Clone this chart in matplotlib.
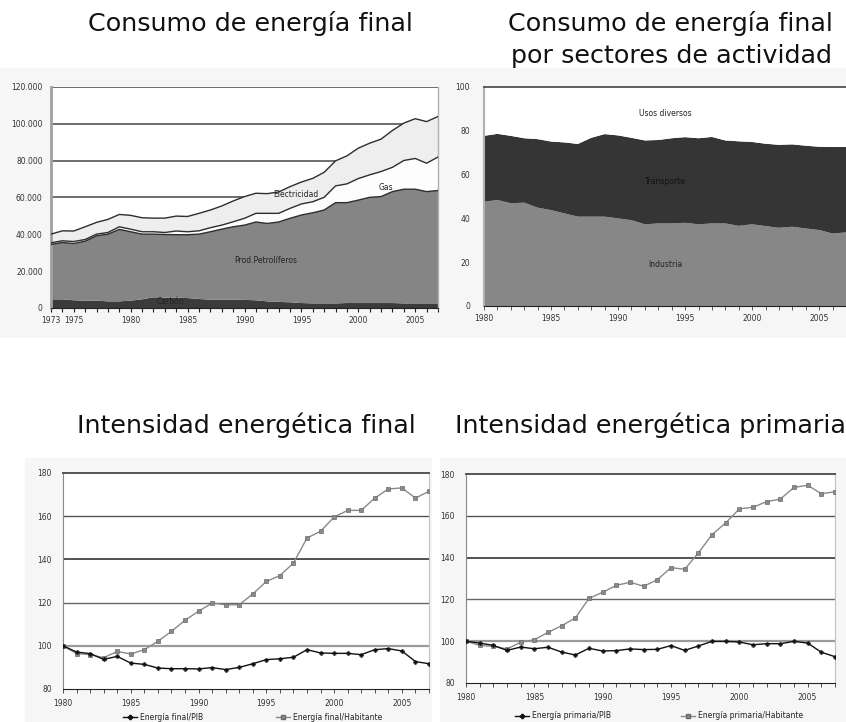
import numpy as np
import matplotlib
matplotlib.use("Agg")
import matplotlib.pyplot as plt
from matplotlib.patches import Rectangle
from matplotlib.lines import Line2D
from matplotlib.ticker import FuncFormatter, MultipleLocator, FixedLocator

# ---------------- data ----------------
years_a = list(range(1973, 2008))
carbon = [4700, 4700, 4200, 4000, 4000, 3600, 3600, 4000, 4700, 5800, 5600, 5600, 5400, 4900, 4500,
          4500, 4500, 4400, 4200, 3600, 3300, 3100, 2700, 2500, 2500, 2500, 2700, 2700, 2700, 2700,
          2700, 2500, 2500, 2500, 2500]
petroleo = [29800, 30900, 30800, 32300, 35200, 36500, 39100, 37400, 35400, 34300, 34300, 34200, 34400,
            35200, 36900, 38300, 39600, 40600, 42500, 42300, 43400, 45600, 47800, 49200, 50700, 54700,
            54500, 55900, 57400, 57800, 60500, 62000, 62000, 60700, 61300]
gas = [900, 900, 1100, 900, 900, 900, 1400, 1400, 1300, 1300, 1100, 2000, 1600, 1800, 2200, 2200, 2700,
       3700, 4700, 5500, 4700, 5400, 6000, 6000, 6900, 9100, 10200, 11700, 12200, 13600, 13200, 15600,
       16700, 15400, 18200]
electricidad = [4700, 5400, 5700, 6900, 6400, 7100, 6700, 7500, 7600, 7400, 7800, 8100, 8300, 9500, 9600,
                10400, 11300, 11800, 10900, 10700, 11600, 11800, 11900, 12700, 13600, 13600, 15200, 16500,
                17200, 17600, 20000, 20300, 21600, 22600, 22000]
fuel_labels = ["Carbón", "Prod.Petrolíferos", "Gas", "Electricidad"]

years_b = list(range(1980, 2008))
industria = [47.6, 48.4, 46.9, 47.2, 44.9, 43.8, 42.3, 40.8, 40.8, 40.8, 40.0, 39.2, 37.3, 37.7, 37.7,
             38.0, 37.3, 37.7, 37.7, 36.6, 37.3, 36.5, 35.7, 36.2, 35.4, 34.7, 33.1, 33.6]
transporte = [30.1, 30.2, 30.8, 29.4, 31.3, 31.3, 32.4, 33.2, 36.0, 37.7, 37.9, 37.6, 38.3, 38.1, 38.9,
              39.1, 39.3, 39.5, 37.9, 38.6, 37.6, 37.6, 37.9, 37.6, 37.8, 38.0, 39.5, 39.0]
usos = [22.3, 21.4, 22.3, 23.4, 23.8, 24.9, 25.3, 26.0, 23.2, 21.5, 22.1, 23.2, 24.4, 24.2, 23.4, 22.9,
        23.4, 22.8, 24.4, 24.8, 25.1, 25.9, 26.4, 26.2, 26.8, 27.3, 27.4, 27.4]
sector_labels = ["Industria", "Transporte", "Usos diversos"]

years_c = list(range(1980, 2008))
final_pib = [100, 97.1, 96.4, 93.7, 95.1, 92.0, 91.4, 89.7, 89.4, 89.4, 89.3, 89.9, 89.0, 90.0, 91.7,
             93.6, 94.0, 94.7, 98.2, 96.7, 96.5, 96.5, 95.9, 98.2, 98.7, 97.6, 92.7, 91.7]
final_hab = [100, 96.4, 95.9, 94.5, 97.4, 96.2, 98.2, 102.1, 106.7, 111.8, 116.0, 119.8, 119.0, 119.0,
             124.0, 129.8, 132.5, 138.3, 149.9, 153.0, 159.6, 162.7, 162.7, 168.4, 172.6, 173.1, 168.4, 171.5]
prim_pib = [100, 99.1, 98.0, 95.6, 97.2, 96.4, 97.1, 94.8, 93.4, 96.6, 95.3, 95.5, 96.3, 96.0, 96.1,
            97.9, 95.6, 97.7, 99.9, 99.9, 99.6, 98.3, 98.8, 98.8, 99.9, 99.1, 94.7, 92.6]
prim_hab = [100, 98.0, 97.5, 96.3, 99.5, 100.7, 104.2, 107.4, 111.1, 120.5, 123.4, 126.7, 128.2, 126.3,
            129.4, 135.2, 134.4, 142.2, 151.0, 156.6, 163.3, 164.1, 166.8, 168.0, 173.6, 174.6, 170.6, 171.5]

titles = ["Consumo de energía final", "Consumo de energía final", "por sectores de actividad",
          "Intensidad energética final", "Intensidad energética primaria"]
leg_final = ["Energía final/PIB", "Energía final/Habitante"]
leg_prim = ["Energía primaria/PIB", "Energía primaria/Habitante"]

# ---------------- figure ----------------
W, H = 846, 722
fig = plt.figure(figsize=(W / 100, H / 100), dpi=100)
fig.patch.set_facecolor("white")

def fx(px):
    return px / W

def fy(py):
    return 1 - py / H

def box(x0, x1, ytop, ybot):
    return [fx(x0), fy(ybot), (x1 - x0) / W, (ybot - ytop) / H]

# light panel backgrounds
for (x0, y0, x1, y1) in [(0, 68, 846, 338), (25, 458, 432, 722), (440, 458, 846, 722)]:
    fig.patches.append(Rectangle((fx(x0), fy(y1)), (x1 - x0) / W, (y1 - y0) / H,
                                 transform=fig.transFigure, facecolor="#f6f6f6",
                                 edgecolor="none", zorder=-5))

TFONT = dict(family="DejaVu Sans", fontsize=18.3, color="#111111")
fig.text(fx(250), fy(31), titles[0], ha="center", va="baseline", **TFONT)
fig.text(fx(670), fy(31), titles[1], ha="center", va="baseline", **TFONT)
fig.text(fx(671), fy(63), titles[2], ha="center", va="baseline", **TFONT)
fig.text(fx(246), fy(433), titles[3], ha="center", va="baseline", **TFONT)
fig.text(fx(650), fy(433), titles[4], ha="center", va="baseline", **TFONT)

TICKFS = 5.5
TICKC = "#333333"

# ---------------- top-left: stacked consumption ----------------
ax1 = fig.add_axes(box(51, 438, 87, 308))
ax1.set_facecolor("white")
ya = np.array(years_a)
ax1.stackplot(ya, carbon, petroleo, gas, electricidad,
              colors=["#3b3b3b", "#858585", "#fdfdfd", "#eeeeee"], linewidth=0, zorder=2)
cum = np.cumsum(np.vstack([carbon, petroleo, gas, electricidad]), axis=0)
for row in cum[1:]:
    ax1.plot(ya, row, color="#2e2e2e", lw=1.0, zorder=3)
for v in range(20000, 120001, 20000):
    ax1.axhline(v, color="#555555", lw=1.2, zorder=1)
ax1.set_xlim(1973, 2007)
ax1.set_ylim(0, 120000)
ax1.set_yticks(range(0, 120001, 20000))
ax1.yaxis.set_major_formatter(FuncFormatter(lambda v, p: f"{v:,.0f}".replace(",", ".")))
ax1.set_xticks([1973, 1975, 1980, 1985, 1990, 1995, 2000, 2005])
ax1.xaxis.set_minor_locator(MultipleLocator(1))
ax1.tick_params(axis="y", length=0, pad=6, labelsize=TICKFS, labelcolor=TICKC)
ax1.tick_params(axis="x", which="both", length=3, width=0.8, color="#222222", pad=3,
                labelsize=TICKFS, labelcolor=TICKC)
ax1.spines["left"].set_color("#a0a0a0")
ax1.spines["left"].set_linewidth(2)
ax1.spines["bottom"].set_color("#222222")
ax1.spines["top"].set_visible(False)
ax1.spines["right"].set_color("#b0b0b0")
ax1.spines["right"].set_linewidth(1)
lab_kw = dict(fontsize=5.5, color="#222222", ha="center", va="center", zorder=5)
ax1.text(1983.5, 3300, fuel_labels[0], **lab_kw)
ax1.text(1991.9, 26000, fuel_labels[1], **lab_kw)
ax1.text(2002.4, 65200, fuel_labels[2], **lab_kw)
ax1.text(1994.5, 61900, fuel_labels[3], **lab_kw)

# ---------------- top-right: sector shares ----------------
ax2 = fig.add_axes(box(484, 846, 87, 306))
ax2.set_facecolor("white")
yb = np.array(years_b)
ax2.stackplot(yb, industria, transporte, usos,
              colors=["#878787", "#353535", "#ffffff"], linewidth=0, zorder=2)
ax2.set_xlim(1980, 2007)
ax2.set_ylim(0, 100)
ax2.set_yticks(range(0, 101, 20))
ax2.set_xticks(range(1980, 2006, 5))
ax2.xaxis.set_minor_locator(MultipleLocator(1))
ax2.tick_params(axis="y", length=0, pad=10, labelsize=TICKFS, labelcolor=TICKC)
ax2.tick_params(axis="x", which="both", length=3, width=0.6, color="#444444", pad=3,
                labelsize=TICKFS, labelcolor=TICKC)
ax2.spines["left"].set_color("#b0b0b0")
ax2.spines["left"].set_linewidth(1.5)
ax2.spines["bottom"].set_color("#222222")
ax2.spines["top"].set_color("#444444")
ax2.spines["top"].set_linewidth(1.2)
ax2.spines["right"].set_visible(False)
lab2 = dict(fontsize=5.5, ha="center", va="center", zorder=5)
ax2.text(1993.5, 88, sector_labels[2], color="#222222", **lab2)
ax2.text(1993.5, 57, sector_labels[1], color="#111111", **lab2)
ax2.text(1993.5, 19, sector_labels[0], color="#222222", **lab2)

# ---------------- bottom: intensities ----------------
def intensity(ax, yrs, pib, hab):
    ax.set_facecolor("white")
    for v, c, lw in [(100, "#9a9a9a", 1.6), (120, "#666666", 1.0), (140, "#333333", 1.2), (160, "#555555", 1.0)]:
        ax.axhline(v, color=c, lw=lw, zorder=1)
    ax.plot(yrs, hab, color="#8a8a8a", lw=1.0, marker="s", ms=2.8, mfc="#8a8a8a",
            mec="#6a6a6a", mew=0.5, zorder=3)
    ax.plot(yrs, pib, color="#111111", lw=1.0, marker="P", ms=3.0, mfc="#111111",
            mec="#111111", mew=0.3, zorder=4)
    ax.set_xlim(1980, 2007)
    ax.set_ylim(80, 180)
    ax.set_yticks(range(80, 181, 20))
    ax.set_xticks(range(1980, 2006, 5))
    ax.xaxis.set_minor_locator(MultipleLocator(1))
    ax.tick_params(axis="y", length=0, pad=8, labelsize=TICKFS, labelcolor=TICKC)
    ax.tick_params(axis="x", which="both", length=3, width=0.6, color="#333333", pad=4,
                   labelsize=TICKFS, labelcolor=TICKC)
    ax.spines["left"].set_color("#888888")
    ax.spines["bottom"].set_color("#222222")
    ax.spines["top"].set_color("#555555")
    ax.spines["top"].set_linewidth(1.4)
    ax.spines["right"].set_color("#c0c0c0")

ax3 = fig.add_axes(box(63, 429, 473, 689))
intensity(ax3, years_c, final_pib, final_hab)
ax4 = fig.add_axes(box(466, 835, 474, 683))
intensity(ax4, years_c, prim_pib, prim_hab)

def leg_entry(x_px, y_px, label, kind):
    if kind == "pib":
        h = Line2D([], [], color="#111111", lw=1.0, marker="P", ms=3.0, mfc="#111111", mec="#111111")
    else:
        h = Line2D([], [], color="#8a8a8a", lw=1.0, marker="s", ms=2.8, mfc="#8a8a8a", mec="#6a6a6a")
    fig.legend(handles=[h], labels=[label], loc="center left",
               bbox_to_anchor=(fx(x_px), fy(y_px)), frameon=False, fontsize=5.5,
               handlelength=1.8, handletextpad=0.4, borderpad=0, borderaxespad=0,
               labelcolor="#222222")

leg_entry(123, 717, leg_final[0], "pib")
leg_entry(276, 717, leg_final[1], "hab")
leg_entry(515, 716, leg_prim[0], "pib")
leg_entry(681, 716, leg_prim[1], "hab")

fig.savefig("out.png", dpi=100, facecolor="white")
